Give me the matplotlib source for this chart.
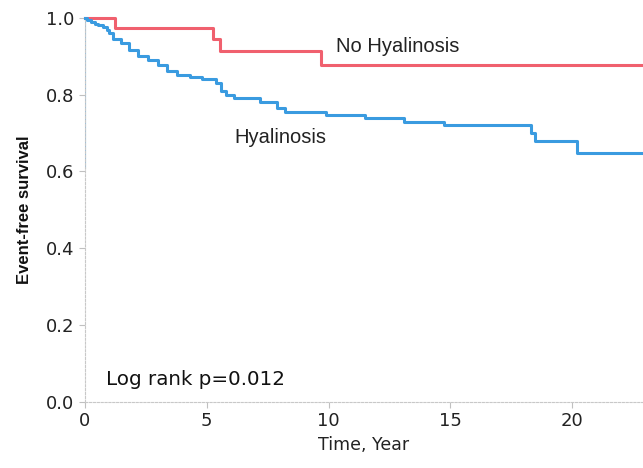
#Kaplan-Meier style survival curves, hyalinosis vs no hyalinosis

import numpy as np
import matplotlib.pyplot as plt

# step points (time in years, survival fraction)
t_hyal = [0, 0.1, 0.25, 0.4, 0.55, 0.75, 0.9, 1.0, 1.15, 1.5, 1.8, 2.2, 2.6, 3.0, 3.35, 3.8,
          4.3, 4.8, 5.4, 5.6, 5.8, 6.1, 7.2, 7.9, 8.2, 9.9, 11.5, 13.1, 14.75, 18.3, 18.45,
          20.2, 22.9]
s_hyal = [1.0, 0.994, 0.99, 0.985, 0.98, 0.975, 0.968, 0.96, 0.945, 0.935, 0.915, 0.9, 0.89,
          0.878, 0.862, 0.852, 0.846, 0.84, 0.83, 0.81, 0.80, 0.79, 0.78, 0.766, 0.756, 0.747,
          0.74, 0.728, 0.72, 0.70, 0.68, 0.648, 0.648]

t_nohyal = [0, 1.25, 5.25, 5.55, 9.7, 22.9]
s_nohyal = [1.0, 0.974, 0.945, 0.914, 0.878, 0.878]

xticks = [0, 5, 10, 15, 20]
yticks = [0.0, 0.2, 0.4, 0.6, 0.8, 1.0]

fig = plt.figure(figsize=(6.43, 4.68), dpi=100)
ax = fig.add_axes([0.132, 0.141, 0.868, 0.821])

ax.step(t_nohyal, s_nohyal, where='post', color='#f0606e', lw=2.2, clip_on=False, zorder=3)
ax.step(t_hyal, s_hyal, where='post', color='#3a9be0', lw=2.2, clip_on=False, zorder=3)
ax.plot([0, 0], [0.61, 1.0], color='#7fb8e6', lw=0.8, zorder=2)

ax.set_xlim(0, 22.9)
ax.set_ylim(0, 1.0)
ax.set_xticks(xticks)
ax.set_yticks(yticks)
ax.set_yticklabels(['%.1f' % v for v in yticks])

for side in ['top', 'right']:
    ax.spines[side].set_visible(False)
for side in ['left', 'bottom']:
    ax.spines[side].set_color('#c8c8c8')
    ax.spines[side].set_linestyle((0, (2, 1.5)))
    ax.spines[side].set_linewidth(0.8)
ax.tick_params(colors='#c0c0c0', length=4, width=0.8, labelcolor='#222222', labelsize=13)
for lab in ax.get_xticklabels() + ax.get_yticklabels():
    lab.set_family('DejaVu Sans')

ax.set_xlabel("Time, Year", fontsize=12.5, family='DejaVu Sans', color='#222222', labelpad=4)
ax.set_ylabel("Event-free survival", fontsize=12, family='Liberation Sans', weight='bold',
              color='#111111', labelpad=10)

ax.text(10.3, 0.925, "No Hyalinosis", fontsize=14.5, family='Liberation Sans', color='#222222',
        va='center', ha='left')
ax.text(6.15, 0.688, "Hyalinosis", fontsize=14.5, family='Liberation Sans', color='#222222',
        va='center', ha='left')
ax.text(0.85, 0.058, "Log rank p=0.012", fontsize=14.3, family='DejaVu Sans', color='#111111',
        va='center', ha='left')

plt.savefig("out.png", dpi=100)
